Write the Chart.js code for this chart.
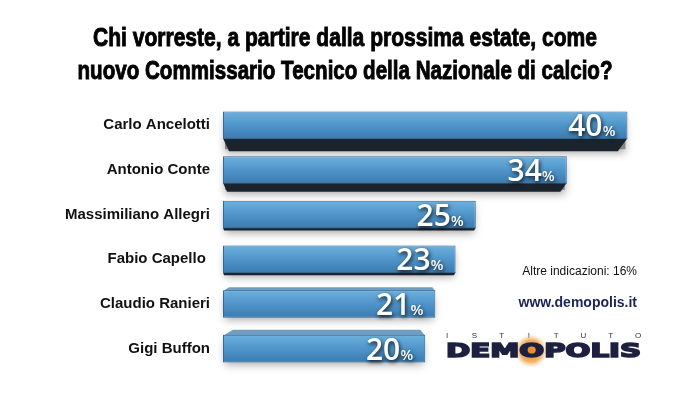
<!DOCTYPE html>
<html lang="it">
<head>
<meta charset="utf-8">
<title>Demopolis - Commissario Tecnico</title>
<script src="https://cdn.jsdelivr.net/npm/chart.js@4.4.1/dist/chart.umd.min.js"></script>
<style>
  html, body { margin: 0; padding: 0; background: #ffffff; }
  #contenitore { position: relative; width: 700px; height: 397px; }
</style>
</head>
<body>
<div id="contenitore"><canvas id="grafico"></canvas></div>
<script>
// Dati del sondaggio
const candidati = ['Carlo Ancelotti', 'Antonio Conte', 'Massimiliano Allegri', 'Fabio Capello ', 'Claudio Ranieri', 'Gigi Buffon'];
const percentuali = [40, 34, 25, 23, 21, 20];
const altreIndicazioni = 16;

const titolo = ['Chi vorreste, a partire dalla prossima estate, come', 'nuovo Commissario Tecnico della Nazionale di calcio?'];

// smusso 3D delle barre (sotto / sopra), in pixel
const smussoSotto = [12, 8, 2, 2, 0, 0];
const smussoSopra = [0, 0, 0, 0, 3, 5];

// Gradiente della faccia della barra
function coloreBarra(context) {
    const chart = context.chart;
    const scalaY = chart.scales.y;
    if (!scalaY || !chart.chartArea) return '#4a8fc4';
    const y = scalaY.getPixelForValue(context.dataIndex);
    const g = chart.ctx.createLinearGradient(0, y - 14, 0, y + 14);
    g.addColorStop(0, '#6db1de');
    g.addColorStop(0.5, '#4f95c9');
    g.addColorStop(1, '#3a7ab0');
    return g;
}

// testo compresso in orizzontale fino a una larghezza data
function testoLargo(ctx, testo, xCentro, y, larghezza, spessore) {
    const w = ctx.measureText(testo).width;
    ctx.save();
    ctx.translate(xCentro, y);
    ctx.scale(larghezza / w, 1);
    ctx.fillText(testo, 0, 0);
    if (spessore) {
        ctx.lineWidth = spessore;
        ctx.strokeText(testo, 0, 0);
    }
    ctx.restore();
}

// Disegna gli smussi e l'ombra sotto le barre
const pluginSmusso = {
    id: 'smusso',
    beforeDatasetsDraw(chart) {
        const ctx = chart.ctx;
        const meta = chart.getDatasetMeta(0);
        meta.data.forEach((barra, i) => {
            const p = barra.getProps(['x', 'y', 'base', 'height'], true);
            const top = p.y - p.height / 2;
            const bottom = p.y + p.height / 2;
            ctx.save();
            // ombra morbida
            ctx.shadowColor = 'rgba(0,0,0,0.35)';
            ctx.shadowBlur = 8;
            ctx.shadowOffsetY = 4;
            ctx.fillStyle = '#888';
            ctx.fillRect(p.base + 2, top + 2, p.x - p.base - 4, p.height - 4 + smussoSotto[i]);
            ctx.restore();

            ctx.save();
            if (smussoSotto[i] > 0) {
                const d = smussoSotto[i];
                ctx.fillStyle = '#1b232c';
                ctx.beginPath();
                ctx.moveTo(p.base, bottom - 1);
                ctx.lineTo(p.x, bottom - 1);
                ctx.lineTo(p.x - d * 0.8, bottom + d);
                ctx.lineTo(p.base + d * 0.5, bottom + d);
                ctx.closePath();
                ctx.fill();
            }
            if (smussoSopra[i] > 0) {
                const d = smussoSopra[i];
                ctx.fillStyle = '#6f9ec2';
                ctx.beginPath();
                ctx.moveTo(p.base, top + 1);
                ctx.lineTo(p.base + d * 2, top - d);
                ctx.lineTo(p.x - d, top - d);
                ctx.lineTo(p.x, top + 1);
                ctx.closePath();
                ctx.fill();
            }
            ctx.restore();
        });
    },
    afterDatasetsDraw(chart) {
        // etichette percentuali dentro le barre
        const ctx = chart.ctx;
        const meta = chart.getDatasetMeta(0);
        meta.data.forEach((barra, i) => {
            const p = barra.getProps(['x', 'y'], true);
            const numero = String(percentuali[i]);
            ctx.save();
            ctx.shadowColor = 'rgba(0,0,0,0.85)';
            ctx.shadowBlur = 4;
            ctx.shadowOffsetX = 1;
            ctx.shadowOffsetY = 2;
            ctx.fillStyle = '#ffffff';
            ctx.textBaseline = 'alphabetic';
            ctx.textAlign = 'right';
            ctx.font = '600 15px "Open Sans", sans-serif';
            const xPerc = p.x - 12;
            ctx.fillText('%', xPerc, p.y + 11);
            const wPerc = ctx.measureText('%').width;
            ctx.font = '600 30px "Open Sans", sans-serif';
            ctx.fillText(numero, xPerc - wPerc, p.y + 11);
            ctx.restore();
        });
    },
    afterDraw(chart) {
        const ctx = chart.ctx;
        ctx.save();
        // titolo, in carattere stretto
        ctx.fillStyle = '#000';
        ctx.strokeStyle = '#000';
        ctx.textAlign = 'center';
        ctx.textBaseline = 'alphabetic';
        ctx.font = 'bold 25px "Liberation Sans", Arial, sans-serif';
        testoLargo(ctx, titolo[0], 345, 46, 504, 0.9);
        testoLargo(ctx, titolo[1], 345, 79, 535, 0.9);

        // note a destra
        ctx.fillStyle = '#111';
        ctx.textAlign = 'right';
        ctx.textBaseline = 'middle';
        ctx.font = '12px "Liberation Sans", Arial, sans-serif';
        ctx.fillText('Altre indicazioni: ' + altreIndicazioni + '%', 637, 272);
        ctx.fillStyle = '#1b2358';
        ctx.font = 'bold 14px "Liberation Sans", Arial, sans-serif';
        ctx.fillText('www.demopolis.it', 637, 303);

        // logo Demopolis
        const lettere = 'ISTITUTO'.split('');
        ctx.fillStyle = '#333';
        ctx.textAlign = 'center';
        ctx.font = '8px "Liberation Sans", Arial, sans-serif';
        lettere.forEach((l, k) => ctx.fillText(l, 447 + k * 27.3, 336));

        const alone = ctx.createRadialGradient(531, 351, 2, 531, 351, 17);
        alone.addColorStop(0, 'rgba(232,140,40,1)');
        alone.addColorStop(0.6, 'rgba(238,165,80,0.85)');
        alone.addColorStop(1, 'rgba(250,215,160,0)');
        ctx.fillStyle = alone;
        ctx.beginPath();
        ctx.arc(531, 351, 17, 0, Math.PI * 2);
        ctx.fill();

        ctx.fillStyle = '#1d2040';
        ctx.strokeStyle = '#1d2040';
        ctx.lineWidth = 1.6;
        ctx.textAlign = 'left';
        ctx.textBaseline = 'alphabetic';
        ctx.font = 'bold 19px "DejaVu Sans", Arial, sans-serif';
        const larghezza = ctx.measureText('DEMOPOLIS').width;
        ctx.translate(446, 357);
        ctx.scale(195 / larghezza, 1);
        ctx.fillText('DEMOPOLIS', 0, 0);
        ctx.strokeText('DEMOPOLIS', 0, 0);
        ctx.restore();
    }
};

const ctx = document.getElementById('grafico').getContext('2d');

new Chart(ctx, {
    type: 'bar',
    data: {
        labels: candidati,
        datasets: [{
            data: percentuali,
            backgroundColor: coloreBarra,
            borderColor: '#2f6a9a',
            borderWidth: 1,
            borderSkipped: false,
            barPercentage: 0.62,
            categoryPercentage: 1
        }]
    },
    options: {
        indexAxis: 'y',
        responsive: true,
        maintainAspectRatio: false,
        animation: false,
        layout: { padding: { left: 0, right: 22, top: 103, bottom: 26 } },
        plugins: {
            legend: { display: false },
            tooltip: { enabled: false },
            title: { display: false }
        },
        scales: {
            x: {
                display: false,
                min: 0,
                max: 45
            },
            y: {
                grid: { display: false },
                border: { display: false },
                afterFit: function(scale) { scale.width = 223; },
                ticks: {
                    color: '#111',
                    padding: 5,
                    font: { family: '"Liberation Sans", Arial, sans-serif', weight: 'bold', size: 15 }
                }
            }
        }
    },
    plugins: [pluginSmusso]
});
</script>
</body>
</html>
